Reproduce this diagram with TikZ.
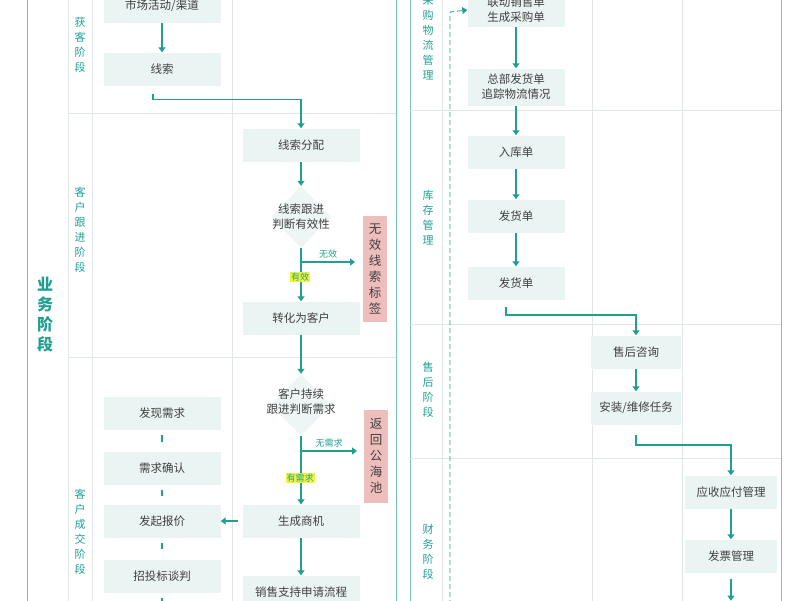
\documentclass[tikz,border=0pt]{standalone}
\usepackage{fontspec}
\setmainfont{Noto Sans CJK SC}
\usetikzlibrary{shapes.geometric, arrows.meta, positioning}
\definecolor{teal}{RGB}{32,160,145}
\definecolor{pale}{RGB}{234,244,242}
\definecolor{grid}{RGB}{225,230,230}
\definecolor{rosy}{RGB}{238,190,188}
\definecolor{hl}{RGB}{240,245,60}
\tikzset{
  box/.style={rectangle, minimum height=33pt, text centered, fill=pale, font=\fontsize{11.5}{15}\selectfont, text=black!75, align=center},
  boxa/.style={box, minimum width=117pt},
  boxb/.style={box, minimum width=97pt},
  boxc/.style={box, minimum width=90pt},
  choice/.style={diamond, minimum width=60pt, minimum height=62pt, fill=pale!80, inner sep=0pt},
  choicetext/.style={font=\fontsize{11.5}{15}\selectfont, text=black!75, align=center},
  tag/.style={rectangle, fill=rosy, font=\fontsize{12.5}{16}\selectfont, text=black!75, align=center, inner sep=2pt},
  phase/.style={font=\fontsize{11}{15}\selectfont, text=teal, align=center},
  arrow/.style={very thick, -{Triangle[length=5pt,width=7pt]}, draw=teal},
  link/.style={very thick, draw=teal},
  lane/.style={draw=grid, thin},
}
\begin{document}
\begin{tikzpicture}[x=1pt, y=-1pt]
  \useasboundingbox (0,0) rectangle (800,600);
  % frames
  \draw [draw=teal!60, thick] (27,-5) -- (27,605);
  \draw [draw=teal!60, thick] (396,-5) -- (396,605);
  \draw [draw=teal!60, thick] (410,-5) -- (410,605);
  \draw [draw=teal!60, thick] (781,-5) -- (781,605);
  \draw [lane] (68,-5) -- (68,605);
  \draw [lane] (92,-5) -- (92,605);
  \draw [lane] (232,-5) -- (232,605);
  \draw [lane] (68,113) -- (396,113);
  \draw [lane] (68,357) -- (396,357);
  \draw [lane] (442,-5) -- (442,605);
  \draw [lane] (592,-5) -- (592,605);
  \draw [lane] (682,-5) -- (682,605);
  \draw [lane] (410,110) -- (781,110);
  \draw [lane] (410,324) -- (781,324);
  \draw [lane] (410,458) -- (781,458);

  % phase labels
  \node [phase, font=\fontsize{16}{20}\selectfont\bfseries] at (45,315) {业\\务\\阶\\段};
  \node [phase] at (80,45) {获\\客\\阶\\段};
  \node [phase] at (80,230) {客\\户\\跟\\进\\阶\\段};
  \node [phase] at (80,532) {客\\户\\成\\交\\阶\\段};
  \node [phase] at (428,38) {采\\购\\物\\流\\管\\理};
  \node [phase] at (428,218) {库\\存\\管\\理};
  \node [phase] at (428,390) {售\\后\\阶\\段};
  \node [phase] at (428,552) {财\\务\\阶\\段};

  % sales lanes
  \node (market) [boxa] at (162,6) {市场活动/渠道};
  \node (lead) [boxa] at (162,69) {线索};
  \node (assign) [boxa] at (301,145) {线索分配};
  \node (valid) [choice] at (301,217) {};
  \node [choicetext] at (301,217) {线索跟进\\判断有效性};
  \node (badtag) [tag, minimum width=24pt, minimum height=106pt] at (375,269) {无\\效\\线\\索\\标\\签};
  \node (client) [boxa] at (301,318) {转化为客户};
  \node (need) [choice] at (301,405) {};
  \node [choicetext] at (301,402) {客户持续\\跟进判断需求};
  \node (pool) [tag, minimum width=24pt, minimum height=93pt] at (376,456) {返\\回\\公\\海\\池};
  \node (chance) [boxa] at (301,521) {生成商机};
  \node (support) [boxa] at (301,592) {销售支持申请流程};
  \node (find) [boxa] at (162,413) {发现需求};
  \node (confirm) [boxa] at (162,468) {需求确认};
  \node (quote) [boxa] at (162,521) {发起报价};
  \node (bid) [boxa] at (162,576) {招投标谈判};

  \coordinate (bad) at (301,262);
  \coordinate (nopass) at (301,451);
  \draw [arrow] (market) -- (lead);
  \draw [link] (lead.south) ++(-9,8) coordinate (l1) -- ++(0,6) -| (301,108);
  \draw [arrow] (301,108) -- (assign.north);
  \draw [arrow] (assign) -- (valid);
  \draw [link] (valid.south) -- (bad);
  \draw [arrow] (bad) --node[above, font=\fontsize{9}{10}\selectfont, text=teal] {无效} (355,262);
  \draw [arrow] (bad) -- (client.north);
  \node [fill=hl, font=\fontsize{9}{10}\selectfont, text=teal, inner sep=1pt] at (300,277) {有效};
  \draw [arrow] (client) -- (need);
  \draw [link] (need.south) -- (nopass);
  \draw [arrow] (nopass) --node[above, font=\fontsize{9}{10}\selectfont, text=teal] {无需求} (357,451);
  \draw [arrow] (nopass) -- (chance.north);
  \node [fill=hl, font=\fontsize{9}{10}\selectfont, text=teal, inner sep=1pt] at (300,478) {有需求};
  \draw [arrow] (chance) -- (support);
  \draw [arrow] (chance.west) ++(-4,0) -- (quote.east);
  \draw [link] (find.south) ++(0,5) -- ++(0,7);
  \draw [link] (confirm.south) ++(0,5) -- ++(0,6);
  \draw [link] (quote.south) ++(0,5) -- ++(0,6);
  \draw [link] (bid.south) ++(0,5) -- ++(0,6);

  % supply lanes
  \node (purchase) [boxb] at (516,10) {联动销售单\\生成采购单};
  \node (ship) [boxb, minimum height=37pt] at (516,87) {总部发货单\\追踪物流情况};
  \node (stock) [boxb] at (516,152) {入库单};
  \node (out1) [boxb] at (516,216) {发货单};
  \node (out2) [boxb] at (516,283) {发货单};
  \node (consult) [boxc] at (636,352) {售后咨询};
  \node (repair) [boxc] at (636,408) {安装/维修任务};
  \node (account) [boxc, minimum width=92pt] at (731,492) {应收应付管理};
  \node (invoice) [boxc, minimum width=92pt] at (731,556) {发票管理};
  \coordinate (dashfoot) at (450,605);
  \coordinate (dashtop) at (450,12);

  \draw [arrow] (purchase) -- (ship);
  \draw [arrow] (ship) -- (stock);
  \draw [arrow] (stock) -- (out1);
  \draw [arrow] (out1) -- (out2);
  \draw [arrow] (506,307) -- (506,315) -| (consult.north);
  \draw [arrow] (consult) -- (repair);
  \draw [arrow] (636,435) -- (636,445) -| (account.north);
  \draw [arrow] (account) -- (invoice);
  \draw [arrow] (invoice.south) ++(0,6) -- ++(0,22);
  \draw [arrow, thick, dashed, dash pattern=on 5pt off 3pt] (dashfoot) -- (dashtop) -- (purchase.west);
\end{tikzpicture}
\end{document}
